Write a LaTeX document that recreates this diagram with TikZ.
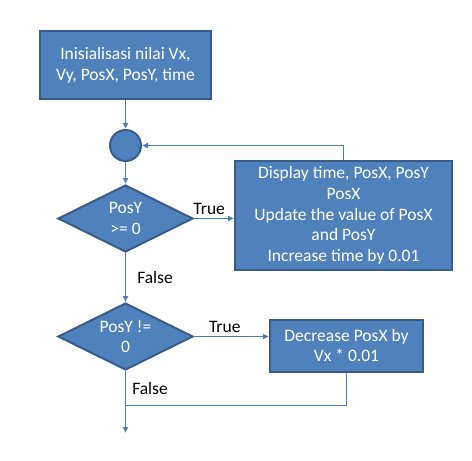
\documentclass[tikz,border=0pt]{standalone}
\usepackage{fontspec}
\setmainfont{Carlito}
\usepackage{xcolor}
\usepackage{tikz}
\usetikzlibrary{arrows.meta, positioning, shapes.geometric}

\definecolor{boxfill}{HTML}{4F81BD}
\definecolor{boxline}{HTML}{385D8A}
\definecolor{flowline}{HTML}{4A7EBB}

\begin{document}
\begin{tikzpicture}[x=1bp, y=1bp, every node/.style={font=\fontsize{17.5bp}{20.7bp}\selectfont}]
    \tikzstyle{block} = [rectangle, draw=boxline, fill=boxfill, line width=2bp, text=white, align=center]
    \tikzstyle{decision} = [diamond, aspect=2, draw=boxline, fill=boxfill, line width=2bp, text=white, align=center, inner sep=0pt, minimum width=135bp, minimum height=67bp]
    \tikzstyle{joint} = [circle, draw=boxline, fill=boxfill, line width=2bp, minimum size=31bp, inner sep=0pt]
    \tikzstyle{arrow} = [draw=flowline, line width=0.9bp, -{Latex[length=6bp, width=6bp]}]
    \tikzstyle{line} = [draw=flowline, line width=0.9bp]

    \useasboundingbox (0,0) rectangle (472,-461);

    \node[block, minimum width=171bp, minimum height=68bp] (init) at (125.5,-65) {Inisialisasi nilai Vx,\\Vy, PosX, PosY, time};
    \node[joint, below=29bp of init] (loop) {};
    \node[decision, below=22bp of loop] (posy) {PosY\\>= 0};
    \node[block, right=40bp of posy, yshift=3bp, minimum width=217bp, minimum height=109bp] (update) {Display time, PosX, PosY\\PosX\\Update the value of PosX\\and PosY\\Increase time by 0.01};
    \node[decision, below=49bp of posy] (notzero) {PosY !=\\0};
    \node[block, right=75bp of notzero, yshift=-9bp, minimum width=153bp, minimum height=52bp] (decrease) {Decrease PosX by\\Vx * 0.01};
    \coordinate[below=34bp of notzero] (merge);
    \coordinate[below=28bp of merge] (finish);

    \draw[arrow] (init) -- (loop);
    \draw[arrow] (loop) -- (posy);
    \draw[arrow] (posy.east) -- node[pos=0.38, above]{True} (posy.east -| update.west);
    \draw[arrow] (update.north) |- (loop.east);
    \draw[arrow] (posy) -- node[right=8bp]{False} (notzero);
    \draw[arrow] (notzero.east) -- node[pos=0.41, above]{True} (decrease.west |- notzero.east);
    \draw[line] (decrease.south) |- (merge);
    \draw[arrow] (notzero.south) -- node[pos=0.28, right=3bp]{False} (finish);
  \end{tikzpicture}
\end{document}
